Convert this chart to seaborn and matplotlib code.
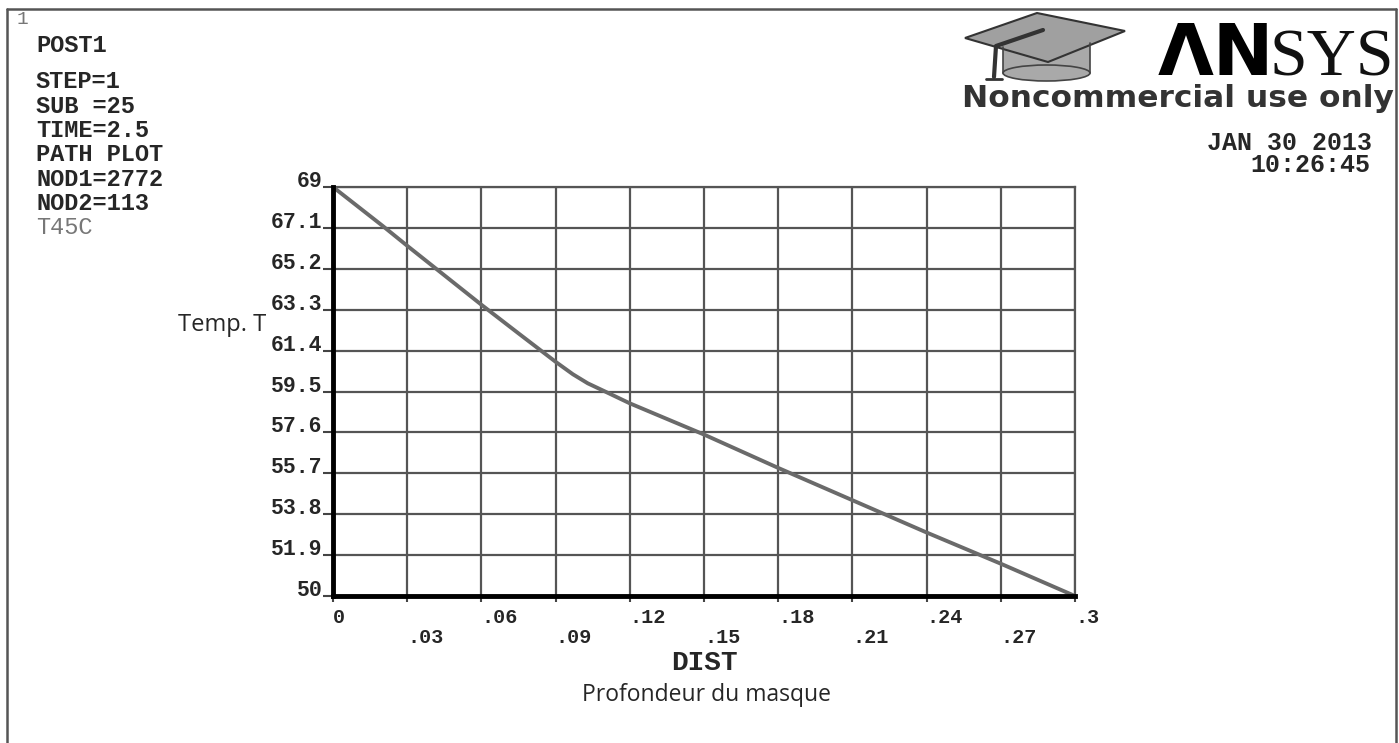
import numpy as np
import pandas as pd
import matplotlib
matplotlib.use("Agg")
import matplotlib.pyplot as plt
import seaborn as sns
from matplotlib.patches import Polygon, Ellipse, Rectangle
from matplotlib.lines import Line2D

# ---- data ----
dist = [0.0, 0.01, 0.02, 0.03, 0.045, 0.06, 0.075, 0.09, 0.097, 0.103, 0.11,
        0.12, 0.15, 0.18, 0.21, 0.24, 0.27, 0.30]
temp = [69.0, 68.1, 67.2, 66.27, 64.9, 63.53, 62.2, 60.88, 60.3, 59.88, 59.5,
        58.95, 57.5, 55.95, 54.45, 52.95, 51.5, 50.0]

ytick_vals = [50, 51.9, 53.8, 55.7, 57.6, 59.5, 61.4, 63.3, 65.2, 67.1, 69]
ytick_labels = ["50", "51.9", "53.8", "55.7", "57.6", "59.5", "61.4", "63.3", "65.2", "67.1", "69"]
xtick_even = [0.0, 0.06, 0.12, 0.18, 0.24, 0.30]
xtick_even_labels = ["0", ".06", ".12", ".18", ".24", ".3"]
xtick_odd = [0.03, 0.09, 0.15, 0.21, 0.27]
xtick_odd_labels = [".03", ".09", ".15", ".21", ".27"]

info_lines = ["STEP=1", "SUB =25", "TIME=2.5", "PATH PLOT", "NOD1=2772", "NOD2=113"]

df = pd.DataFrame({"DIST": dist, "T": temp})

sns.set_style("white")
plt.rcParams["font.family"] = ["DejaVu Sans"]

W, H = 1399, 743
fig = plt.figure(figsize=(W / 100, H / 100), dpi=100)
fig.patch.set_facecolor("white")

def fx(px):
    return px / W

def fy(py):
    return 1 - py / H

ax = fig.add_axes([fx(333), fy(596), (1075 - 333) / W, (596 - 187) / H])
sns.lineplot(data=df, x="DIST", y="T", ax=ax, color="#6a6a6a", linewidth=2.8,
             sort=False, zorder=4)

ax.set_xlim(0, 0.3)
ax.set_ylim(50, 69)
MONO = "Liberation Mono"

ax.set_yticks(ytick_vals)
ax.set_yticklabels(ytick_labels, fontfamily=MONO, fontweight="bold", fontsize=15.5,
                   va="baseline")
ax.set_xticks(xtick_even)
ax.set_xticklabels(xtick_even_labels, fontfamily=MONO, fontweight="bold", fontsize=14.5,
                   ha="left")
ax.set_xticks(xtick_odd, minor=True)
ax.set_xticklabels(xtick_odd_labels, minor=True, fontfamily=MONO, fontweight="bold",
                   fontsize=14.5, ha="left")

ax.tick_params(axis="y", which="major", length=7.5, width=1.5, color="#444444",
               pad=0, left=True)
ax.tick_params(axis="x", which="major", length=4.5, width=1.5, color="#444444",
               pad=4, bottom=True)
ax.tick_params(axis="x", which="minor", length=4.5, width=1.5, color="#444444",
               pad=18.5, bottom=True)

ax.grid(True, which="major", axis="y", color="#555555", linewidth=1.6)
ax.grid(True, which="both", axis="x", color="#555555", linewidth=1.6)
ax.set_axisbelow(True)

for s in ["top", "right"]:
    ax.spines[s].set_color("#555555")
    ax.spines[s].set_linewidth(1.6)
for s in ["left", "bottom"]:
    ax.spines[s].set_color("black")
    ax.spines[s].set_linewidth(3.5)
    ax.spines[s].set_zorder(5)

ax.set_xlabel("")
ax.set_ylabel("")

# axis titles
fig.text(fx(704), fy(663), "DIST", fontfamily=MONO, fontweight="bold", fontsize=20,
         ha="center", va="center")
fig.text(fx(707), fy(695), "Profondeur du masque", fontfamily="Open Sans", fontsize=16.5,
         ha="center", va="center")
fig.text(fx(266), fy(325), "Temp. T", fontfamily="Open Sans", fontsize=17,
         ha="right", va="center")

# header texts
fig.text(fx(17), fy(19), "1", fontfamily=MONO, fontsize=14, color="#777777",
         ha="left", va="center")
fig.text(fx(36), fy(45), "POST1", fontfamily=MONO, fontweight="bold", fontsize=17,
         ha="left", va="center")
for i, t in enumerate(info_lines):
    fig.text(fx(36), fy(82 + i * 24.3), t, fontfamily=MONO, fontweight="bold",
             fontsize=17, ha="left", va="center")
fig.text(fx(36), fy(228), "T45C", fontfamily=MONO, fontsize=17, color="#777777",
         ha="left", va="center")

fig.text(fx(1372), fy(143), "JAN 30 2013", fontfamily=MONO, fontweight="bold",
         fontsize=18, ha="right", va="center")
fig.text(fx(1370), fy(165), "10:26:45", fontfamily=MONO, fontweight="bold",
         fontsize=18, ha="right", va="center")

# logo
def P(x, y):
    return (fx(x), fy(y))

cyl = Rectangle(P(1003, 73), fx(1090) - fx(1003), fy(45) - fy(73),
                transform=fig.transFigure, facecolor="#a9a9a9", edgecolor="none")
fig.patches.append(cyl)
ell = Ellipse(P(1046.5, 73), fx(1090) - fx(1003), (fy(65) - fy(81)),
              transform=fig.transFigure, facecolor="#a9a9a9", edgecolor="#444444",
              linewidth=1.2)
fig.patches.append(ell)
fig.add_artist(Line2D([fx(1003), fx(1003)], [fy(47), fy(73)], transform=fig.transFigure,
                      color="#444444", linewidth=1.2))
fig.add_artist(Line2D([fx(1090), fx(1090)], [fy(43), fy(73)], transform=fig.transFigure,
                      color="#444444", linewidth=1.2))
diamond = Polygon([P(965, 38), P(1037, 13), P(1125, 31), P(1048, 62)], closed=True,
                  transform=fig.transFigure, facecolor="#a0a0a0", edgecolor="#333333",
                  linewidth=1.5)
fig.patches.append(diamond)
fig.add_artist(Line2D([fx(1043), fx(996), fx(994)], [fy(30), fy(46), fy(77)],
                      transform=fig.transFigure, color="#333333", linewidth=3))
fig.add_artist(Line2D([fx(986), fx(1002)], [fy(79), fy(79)], transform=fig.transFigure,
                      color="#333333", linewidth=2))

fig.text(fx(1274), fy(75), "ΛN", fontfamily="DejaVu Sans", fontweight="bold",
         fontsize=52, ha="right", va="baseline", color="black")
fig.text(fx(1394), fy(75), "SYS", fontfamily="Liberation Serif", fontsize=49,
         ha="right", va="baseline", color="#111111")
fig.text(fx(1394), fy(107), "Noncommercial use only", fontfamily="DejaVu Sans",
         fontweight="bold", fontsize=22.5, ha="right", va="baseline", color="#333333")

# frame
for xs, ys in [([7, 7], [9, 743]), ([7, 1396], [9, 9]), ([1396, 1396], [9, 743])]:
    fig.add_artist(Line2D([fx(x) for x in xs], [fy(y) for y in ys],
                          transform=fig.transFigure, color="#555555", linewidth=1.8))

fig.savefig("out.png", dpi=100, facecolor="white")
